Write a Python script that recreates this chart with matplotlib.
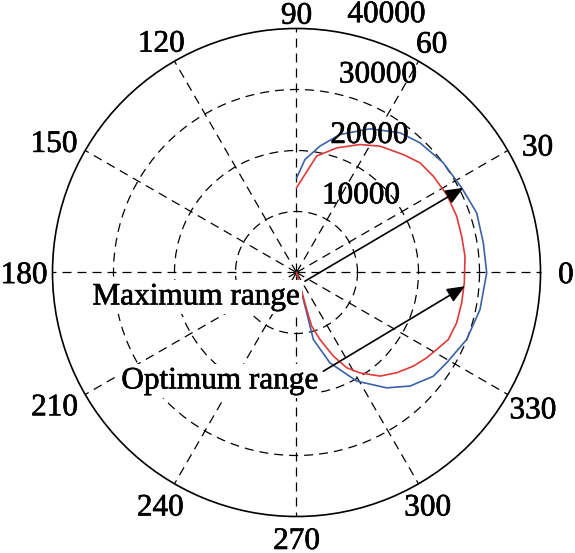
import numpy as np
import matplotlib
matplotlib.use('Agg')
import matplotlib.pyplot as plt
import matplotlib.patheffects as pe

plt.rcParams['font.family'] = ['Liberation Serif', 'DejaVu Serif']

# ---------------- data ----------------
r_max = 40000
r_ticks = [10000, 20000, 30000, 40000]
r_tick_labels = ['10000', '20000', '30000', '40000']
theta_ticks = [0, 30, 60, 90, 120, 150, 180, 210, 240, 270, 300, 330]
theta_tick_labels = ['0', '30', '60', '90', '120', '150', '180', '210', '240', '270', '300', '330']

# Maximum range (blue), angle in degrees, range
max_theta_deg = [-75.8, -75.8, -75.9, -69.7, -61.0, -52.0, -45.0, -37.2, -31.0, -21.5,
                 -11.4, -0.1, 9.0, 18.3, 27.1, 36.8, 46.4, 53.5, 62.9, 72.5,
                 79.5, 85.7, 89.9]
max_r = [0, 6820, 11320, 15790, 20360, 24000, 26330, 28140, 28730, 29980,
         30690, 31180, 31010, 31110, 30430, 30040, 29350, 28500, 26460, 23720,
         21070, 18580, 15520]

# Optimum range (red)
opt_theta_deg = [-74.6, -74.6, -74.2, -70.7, -66.2, -62.2, -57.7, -51.1, -45.0, -38.7,
                 -33.2, -28.8, -23.8, -17.4, -10.4, -3.5, 5.5, 12.4, 19.4, 27.4,
                 35.1, 41.6, 47.8, 56.5, 63.6, 72.1, 80.2, 90.0]
opt_r = [0, 6290, 9140, 11640, 14990, 17660, 19470, 21820, 23240, 24550,
         25520, 26220, 27210, 27520, 27530, 27560, 27750, 27720, 27830, 27740,
         27430, 27080, 26090, 24830, 23420, 21470, 19360, 13880]

# annotations: (theta_deg, r) of arrow tail / head and text anchor
max_label = 'Maximum range'
opt_label = 'Optimum range'
max_arrow_tail = (-45.7, 1990)
max_arrow_head = (26.9, 30670)
opt_arrow_tail = (-74.8, 16770)
opt_arrow_head = (-4.65, 27710)
max_text_pos = (197.7, 17245)
opt_text_pos = (236.6, 22778)

# ---------------- layout ----------------
blue = '#3A62A6'
red = '#DE3A3A'
fs = 22.5
heavy = [pe.withStroke(linewidth=0.45, foreground='black')]

fig = plt.figure(figsize=(5.75, 5.53), dpi=100)
ax = fig.add_axes([0.0913, 0.066, 0.8487, 0.8825], projection='polar')
ax.set_ylim(0, r_max)
ax.set_thetagrids(theta_ticks, [''] * len(theta_ticks))
ax.set_rgrids(r_ticks[:-1], [''] * (len(r_ticks) - 1))
ax.grid(True, color='black', linestyle=(0, (7.2, 4.8)), linewidth=0.9)
ax.spines['polar'].set_linewidth(1.2)
ax.spines['polar'].set_color('black')
ax.tick_params(length=0)

ax.plot(np.deg2rad(max_theta_deg), max_r, color=blue, lw=1.2, zorder=2)
ax.plot(np.deg2rad(opt_theta_deg), opt_r, color=red, lw=1.2, zorder=2.1)

# radial labels (MATLAB style at 82 deg)
for rv, lab in zip(r_ticks, r_tick_labels):
    ax.annotate(lab, xy=(np.deg2rad(82), rv + 500), xycoords='data',
                xytext=(16.5, 5.7), textcoords='offset pixels',
                ha='left', va='baseline', fontsize=fs, annotation_clip=False,
                zorder=4, path_effects=heavy)

# angle labels
theta_offsets = {0: (1, 0), 30: (8.6, 6.7), 60: (1, 2), 90: (0, 9), 120: (-1, 1),
                 150: (-10, 3), 180: (-4, 0), 210: (-9.5, -2), 240: (-2, 0),
                 270: (0, -2.5), 300: (-3, 0), 330: (4, 1)}
for t, lab in zip(theta_ticks, theta_tick_labels):
    ox, oy = theta_offsets[t]
    ax.annotate(lab, xy=(np.deg2rad(t), 1.1 * r_max), xycoords='data',
                xytext=(ox, -(oy + 10.6)), textcoords='offset pixels',
                ha='center', va='baseline', fontsize=fs, annotation_clip=False,
                path_effects=heavy)

# arrows
arrow_kw = dict(arrowstyle='-|>,head_length=0.6,head_width=0.25', color='black',
                lw=1.2, shrinkA=0, shrinkB=0, mutation_scale=18)
for tail, head in [(max_arrow_tail, max_arrow_head), (opt_arrow_tail, opt_arrow_head)]:
    ax.annotate('', xy=(np.deg2rad(head[0]), head[1]),
                xytext=(np.deg2rad(tail[0]), tail[1]),
                arrowprops=arrow_kw, zorder=5)

# texts with white background
for (tdeg, rv), lab in [(max_text_pos, max_label), (opt_text_pos, opt_label)]:
    ax.text(np.deg2rad(tdeg), rv, lab, ha='center', va='baseline', fontsize=fs,
            bbox=dict(facecolor='white', edgecolor='none', pad=1.5), zorder=4,
            path_effects=heavy)

fig.savefig('out.png', dpi=100)
